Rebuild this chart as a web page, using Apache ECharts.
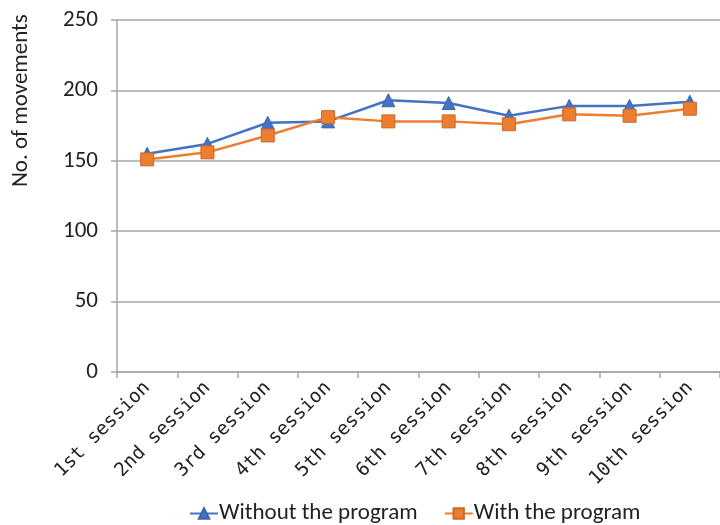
<!DOCTYPE html>
<html>
<head>
<meta charset="utf-8">
<script src="https://cdn.jsdelivr.net/npm/echarts@6/dist/echarts.min.js"></script>
<style>
  html, body { margin: 0; padding: 0; background: #fff; }
  #chart { width: 720px; height: 525px; }
</style>
</head>
<body>
<div id="chart"></div>
<script>
const sessions = ['1st session', '2nd session', '3rd session', '4th session', '5th session',
                  '6th session', '7th session', '8th session', '9th session', '10th session'];
const withoutProgram = [155, 162, 177, 178, 193, 191, 182, 189, 189, 192];
const withProgram = [151, 156, 168, 181, 178, 178, 176, 183, 182, 187];
const yTicks = { min: 0, max: 250, interval: 50 };

const axisGray = '#a6a6a6';
const textColor = '#222';
const font = 'Carlito, Calibri, "Liberation Sans", "Noto Sans", sans-serif';

const chart = echarts.init(document.getElementById('chart'));
chart.setOption({
  animation: false,
  grid: { left: 117, top: 20, width: 609, height: 352, containLabel: false },
  graphic: [{
    type: 'text',
    x: 10, y: 187,
    rotation: Math.PI / 2,
    style: { text: 'No. of movements', font: '23px ' + font, fill: textColor }
  }],
  legend: {
    top: 497,
    left: 184,
    itemGap: 26,
    itemWidth: 28,
    itemHeight: 13,
    textStyle: { fontSize: 23, fontFamily: font, color: textColor, padding: [0, 0, 0, -4] },
    data: ['Without the program', 'With the program']
  },
  xAxis: {
    type: 'category',
    data: sessions,
    boundaryGap: true,
    axisLine: { lineStyle: { color: axisGray, width: 1.5 } },
    axisTick: { show: true, length: 6, alignWithLabel: false, lineStyle: { color: axisGray, width: 1.5 } },
    axisLabel: {
      rotate: 45, interval: 0, margin: 13,
      fontSize: 19, color: textColor,
      fontFamily: '"DejaVu Sans Mono", monospace'
    },
    splitLine: { show: false }
  },
  yAxis: {
    type: 'value',
    min: yTicks.min, max: yTicks.max, interval: yTicks.interval,
    axisLine: { show: true, lineStyle: { color: axisGray, width: 1.5 } },
    axisTick: { show: true, length: 6, lineStyle: { color: axisGray, width: 1.5 } },
    axisLabel: { fontSize: 23, color: textColor, fontFamily: font, margin: 19 },
    splitLine: { lineStyle: { color: axisGray, width: 1.5 } }
  },
  series: [
    {
      name: 'Without the program',
      type: 'line',
      data: withoutProgram,
      symbol: 'triangle',
      symbolSize: 13,
      lineStyle: { color: '#4472C4', width: 2.5 },
      itemStyle: { color: '#4472C4', borderColor: '#3a64ae', borderWidth: 1 },
      z: 2
    },
    {
      name: 'With the program',
      type: 'line',
      data: withProgram,
      symbol: 'rect',
      symbolSize: 13,
      lineStyle: { color: '#ED7D31', width: 2.5 },
      itemStyle: { color: '#ED7D31', borderColor: '#c96a2a', borderWidth: 1 },
      z: 3
    }
  ]
});
</script>
</body>
</html>
